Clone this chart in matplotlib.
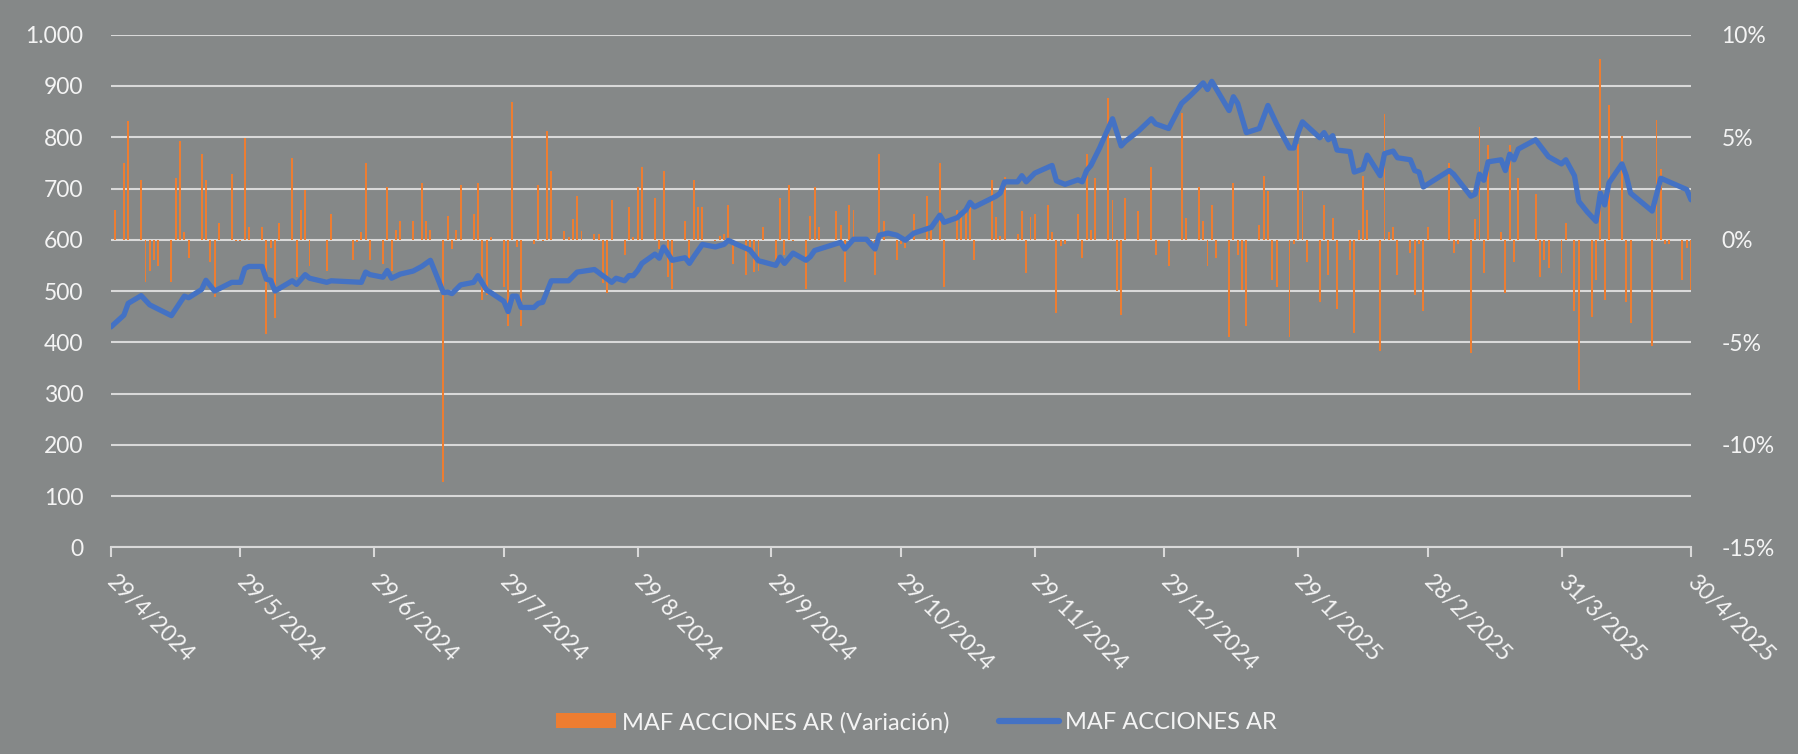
import matplotlib
matplotlib.use('Agg')
import matplotlib.pyplot as plt
from matplotlib.ticker import FuncFormatter
from matplotlib.lines import Line2D
from matplotlib.patches import Patch
import matplotlib.transforms as mtransforms
import numpy as np
import pandas as pd

# ---------------- data ----------------
start_date = "2024-04-29"
end_date = "2025-04-30"

# index level (left axis), day offset from 29/4/2024
line_day = [0, 3, 4, 7, 9, 14, 17, 18, 21, 22, 24, 28, 30, 31, 32, 35, 36, 37, 38, 42,
            43, 45, 46, 50, 51, 58, 59, 60, 63, 64, 65, 67, 70, 72, 74, 77, 78, 79, 81, 84,
            85, 87, 88, 91, 92, 93, 94, 95, 98, 99, 100, 102, 106, 108, 112, 116, 117, 119, 120, 121,
            122, 123, 126, 127, 128, 130, 133, 134, 135, 137, 140, 142, 143, 145, 148, 150, 151, 154, 155, 156,
            158, 161, 162, 163, 169, 170, 172, 175, 177, 178, 180, 182, 184, 186, 190, 192, 193, 196, 198, 199,
            200, 205, 206, 207, 210, 211, 212, 214, 218, 219, 221, 224, 225, 226, 227, 229, 232, 234, 235, 238,
            241, 242, 245, 248, 250, 253, 254, 255, 259, 260, 261, 263, 266, 268, 270, 273, 274, 275, 276, 280,
            281, 282, 283, 284, 287, 288, 290, 291, 294, 295, 297, 298, 301, 302, 303, 304, 310, 311, 315, 316,
            317, 318, 319, 322, 323, 324, 325, 326, 330, 333, 336, 337, 339, 340, 342, 344, 345, 346, 347, 350,
            351, 352, 357, 358, 359, 365, 366]
line_val = [430, 453, 476, 491, 473, 452, 490, 487, 503, 521, 500, 517, 517, 544, 548, 548, 523, 521, 500, 520,
            513, 532, 525, 517, 520, 517, 537, 532, 527, 540, 525, 533, 539, 548, 560, 497, 498, 495, 512, 517,
            530, 502, 497, 480, 460, 490, 490, 468, 468, 476, 478, 520, 520, 537, 542, 517, 525, 520, 530, 530,
            540, 554, 572, 564, 586, 560, 565, 554, 567, 591, 586, 591, 599, 591, 580, 559, 557, 550, 566, 554,
            574, 560, 567, 579, 595, 582, 601, 601, 582, 609, 613, 609, 599, 613, 624, 648, 634, 643, 658, 673,
            664, 685, 691, 713, 713, 725, 713, 730, 745, 715, 708, 717, 713, 735, 745, 779, 836, 783, 792, 812,
            836, 826, 817, 866, 881, 906, 893, 909, 852, 879, 866, 809, 817, 862, 826, 779, 779, 809, 830, 799,
            809, 795, 803, 775, 772, 732, 738, 765, 725, 768, 773, 760, 756, 735, 732, 703, 735, 728, 685, 689,
            728, 716, 752, 756, 735, 767, 756, 777, 795, 762, 748, 756, 725, 675, 654, 636, 691, 668, 711, 748,
            725, 691, 656, 688, 720, 698, 678]

# daily variation (right axis, %), day offset from 29/4/2024
bar_day = [1, 3, 4, 7, 8, 9, 10, 11, 14, 15, 16, 17, 18, 21, 22, 23, 24, 25, 28, 29,
           30, 31, 32, 35, 36, 37, 38, 39, 42, 43, 44, 45, 46, 50, 51, 56, 57, 58, 59, 60,
           63, 64, 65, 66, 67, 70, 72, 73, 74, 77, 78, 79, 80, 81, 84, 85, 86, 87, 88, 91,
           92, 93, 94, 95, 98, 99, 100, 101, 102, 105, 106, 107, 108, 109, 112, 113, 114, 115, 116, 119,
           120, 121, 122, 123, 126, 127, 128, 129, 130, 133, 134, 135, 136, 137, 140, 141, 142, 143, 144, 147,
           148, 149, 150, 151, 154, 155, 156, 157, 158, 161, 162, 163, 164, 168, 169, 170, 171, 172, 176, 177,
           178, 179, 182, 183, 184, 186, 189, 190, 192, 193, 196, 197, 198, 199, 200, 204, 205, 206, 207, 210,
           211, 212, 213, 214, 217, 218, 219, 220, 221, 224, 225, 226, 227, 228, 231, 232, 233, 234, 235, 238,
           241, 242, 245, 248, 249, 252, 253, 254, 255, 256, 259, 260, 261, 262, 263, 266, 267, 268, 269, 270,
           273, 274, 275, 276, 277, 280, 281, 282, 283, 284, 287, 288, 289, 290, 291, 294, 295, 296, 297, 298,
           301, 302, 303, 304, 305, 310, 311, 312, 315, 316, 317, 318, 319, 322, 323, 324, 325, 326, 330, 331,
           332, 333, 336, 337, 339, 340, 343, 344, 345, 346, 347, 350, 351, 352, 357, 358, 359, 360, 361, 364,
           365, 366]
bar_pct = [1.47, 3.75, 5.8, 2.9, -2.05, -1.5, -1.0, -1.3, -2.05, 3.0, 4.8, 0.4, -0.87, 4.2, 2.9, -1.08, -2.8, 0.83, 3.2, -0.05,
           -0.05, 4.95, 0.6, 0.6, -4.6, -0.4, -3.8, 0.83, 3.97, -1.83, 1.47, 2.45, -1.28, -1.5, 1.25, -0.97, -0.12, 0.38, 3.75, -0.97,
           -1.18, 2.55, -1.5, 0.5, 0.92, 0.92, 2.78, 0.92, 0.5, -11.8, 1.15, -0.45, 0.5, 2.67, 1.25, 2.78, -2.92, -2.67, 0.15, -2.3,
           -4.2, 6.7, -0.33, -4.2, -0.22, 2.67, -0.08, 5.28, 3.33, 0.42, 0.15, 1.03, 2.13, 0.42, 0.28, 0.28, -2.12, -2.58, 1.92, -0.75,
           1.58, 0.15, 2.55, 3.55, 2.03, -0.45, 3.33, -1.83, -2.38, 0.92, -1.17, 2.92, 1.58, 1.58, -0.08, 0.17, 0.28, 1.7, -1.18, -1.72,
           -0.33, -1.58, -1.5, 0.62, -1.38, 2.03, -0.75, 2.67, -0.05, -2.38, 1.17, 2.55, 0.62, 1.38, 0.72, -2.05, 1.7, 1.47, -0.05, -1.72,
           4.2, 0.92, -0.97, -0.2, -0.42, 1.28, 2.13, 0.5, 3.75, -2.28, 1.47, 1.13, 1.33, 1.58, -0.97, 2.92, 1.13, 0.17, 3.08, 0.28,
           1.38, -1.62, 1.13, 1.25, 1.7, 0.38, -3.55, -0.3, -0.2, 1.28, -0.87, 4.2, 0.5, 3.0, 6.92, 1.95, -2.5, -3.67, 2.03, 1.38,
           3.55, -0.75, -1.28, 6.17, 1.05, 2.58, 0.92, -1.28, 1.7, -0.87, -4.75, 2.78, -0.75, -2.47, -4.2, 0.7, 3.12, 2.37, -1.95, -2.28,
           -4.75, -0.22, 4.67, 2.37, -1.08, -3.03, 1.7, -1.72, 1.05, -3.37, -0.97, -4.53, 0.5, 3.12, 1.47, -5.42, 6.12, 0.38, 0.62, -1.72,
           -0.63, -2.67, -0.2, -3.45, 0.62, 3.75, -0.63, -0.2, -5.5, 1.03, 5.48, -1.62, 4.62, 0.38, -2.58, 4.62, -1.08, 3.0, 2.25, -1.83,
           -0.97, -1.38, -1.62, 0.83, -3.45, -7.33, -3.78, -1.95, 8.83, -2.92, 6.58, 5.05, -3.03, -4.08, -5.17, 5.82, 3.45, -0.2, -0.2, -1.95,
           -0.42, -2.47]

tick_dates = ["2024-04-29", "2024-05-29", "2024-06-29", "2024-07-29", "2024-08-29", "2024-09-29",
              "2024-10-29", "2024-11-29", "2024-12-29", "2025-01-29", "2025-02-28", "2025-03-31", "2025-04-30"]
tick_labels = ["29/4/2024", "29/5/2024", "29/6/2024", "29/7/2024", "29/8/2024", "29/9/2024",
               "29/10/2024", "29/11/2024", "29/12/2024", "29/1/2025", "28/2/2025", "31/3/2025", "30/4/2025"]
left_ticks = [0, 100, 200, 300, 400, 500, 600, 700, 800, 900, 1000]
right_ticks = [-15, -10, -5, 0, 5, 10]

series_bar_name = "MAF ACCIONES AR (Variación)"
series_line_name = "MAF ACCIONES AR"

# ---------------- style ----------------
BG = '#858888'
ORANGE = '#ED7D31'
BLUE = '#4472C4'
GRID = '#D9D9D9'
TXT = '#F4F4F4'
FS = 16.5

plt.rcParams['font.family'] = ['Lato', 'DejaVu Sans']

start = pd.Timestamp(start_date)
line_dates = start + pd.to_timedelta(line_day, unit='D')
bar_dates = start + pd.to_timedelta(bar_day, unit='D')

fig = plt.figure(figsize=(17.98, 7.54), dpi=100, facecolor=BG)
ax = fig.add_axes([0.0617, 0.274, 0.8788, 0.680])
ax2 = ax.twinx()
ax.set_zorder(2)
ax2.set_zorder(1)
ax.patch.set_visible(False)
ax2.patch.set_facecolor(BG)

# bars on secondary axis
ax2.bar(bar_dates, bar_pct, width=0.45, color=ORANGE, zorder=3)
ax2.set_ylim(-15, 10)
ax2.set_yticks(right_ticks)
ax2.set_yticks(np.arange(-15, 10.01, 2.5), minor=True)
ax2.yaxis.set_major_formatter(FuncFormatter(lambda v, p: f"{int(round(v))}%"))
ax2.yaxis.grid(True, which='both', color=GRID, lw=1.5)
ax2.set_axisbelow(True)
ax2.tick_params(axis='y', which='both', length=0, pad=22, labelsize=FS, labelcolor=TXT)

# line on primary axis
ax.plot(line_dates, line_val, color=BLUE, lw=3.8, solid_joinstyle='round', solid_capstyle='round', zorder=4)
ax.set_ylim(0, 1000)
ax.set_yticks(left_ticks)
ax.yaxis.set_major_formatter(FuncFormatter(lambda v, p: f"{int(v):,}".replace(',', '.')))
ax.tick_params(axis='y', length=0, pad=20, labelsize=FS, labelcolor=TXT)

ax.set_xlim(start, pd.Timestamp(end_date))
ax.set_xticks(pd.to_datetime(tick_dates))
ax.set_xticklabels(tick_labels)
ax.tick_params(axis='x', direction='out', length=7, width=1.5, color=GRID, pad=4, labelsize=FS, labelcolor=TXT)
for lab in ax.get_xticklabels():
    lab.set_rotation(-45)
    lab.set_rotation_mode('anchor')
    lab.set_ha('left')
    lab.set_va('top')
    lab.set_transform(lab.get_transform() + mtransforms.ScaledTranslation(5 / 72, -6 / 72, fig.dpi_scale_trans))

for a in (ax, ax2):
    for s in ('left', 'right', 'top'):
        a.spines[s].set_visible(False)
ax2.spines['bottom'].set_visible(False)
ax.spines['bottom'].set_color(GRID)
ax.spines['bottom'].set_linewidth(1.5)
ax2.tick_params(axis='x', which='both', bottom=False, labelbottom=False)

handles = [Patch(facecolor=ORANGE, edgecolor='none'),
           Line2D([], [], color=BLUE, lw=4.5, solid_capstyle='round')]
fig.legend(handles, [series_bar_name, series_line_name], loc='center',
           bbox_to_anchor=(0.5095, 0.042), ncol=2, frameon=False, fontsize=17,
           labelcolor=TXT, handlelength=2.55, handleheight=0.6, handletextpad=0.25,
           columnspacing=2.1)

fig.savefig('out.png', dpi=100, facecolor=BG)
